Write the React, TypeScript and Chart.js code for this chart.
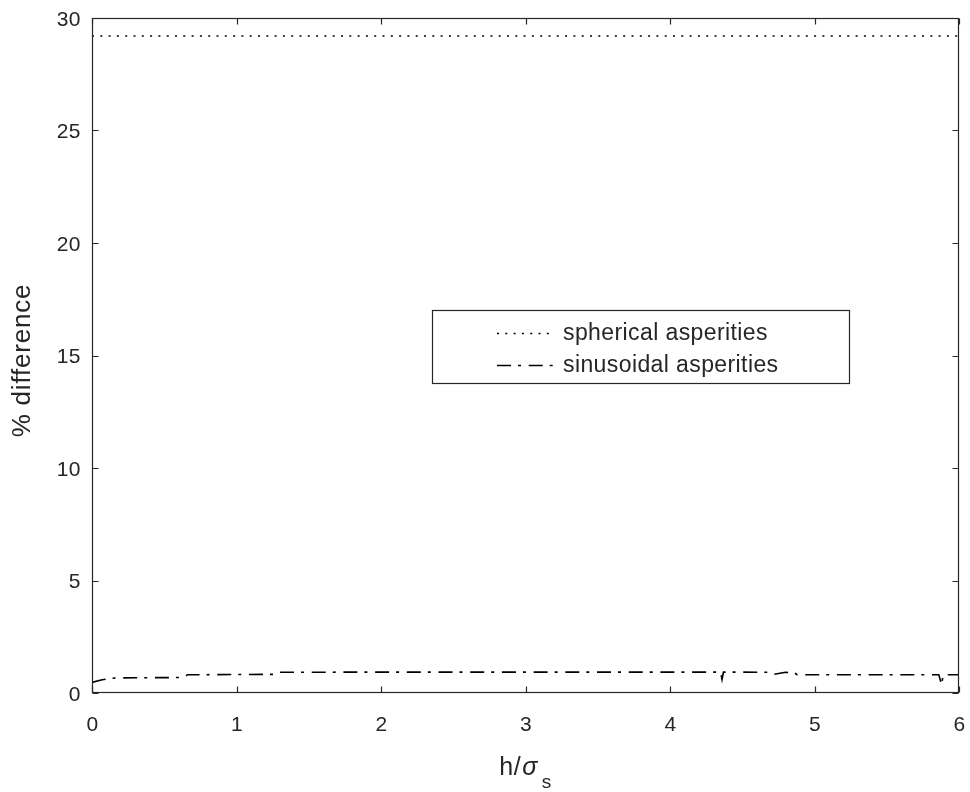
import React, { useEffect, useRef } from "react";
import { Chart, registerables } from "chart.js";

Chart.register(...registerables);

const xTicks = [0, 1, 2, 3, 4, 5, 6];
const yTicks = [0, 5, 10, 15, 20, 25, 30];
const xTickLabels = ["0", "1", "2", "3", "4", "5", "6"];
const yTickLabels = ["0", "5", "10", "15", "20", "25", "30"];
const seriesLabels = ["spherical asperities", "sinusoidal asperities"];
const yAxisLabel = "% difference";

const sphericalX = [0, 6];
const sphericalY = [29.2, 29.2];

const sinusoidalX = [0, 0.07, 0.16, 0.64, 0.66, 1.26, 1.28, 2, 3, 4, 4.35, 4.36, 4.37, 4.7, 4.72, 4.8, 4.86, 4.88, 5.0, 5.86, 5.88, 5.89, 6];
const sinusoidalY = [0.47, 0.59, 0.67, 0.69, 0.81, 0.83, 0.92, 0.93, 0.93, 0.93, 0.93, 0.6, 0.93, 0.92, 0.83, 0.92, 0.9, 0.81, 0.81, 0.81, 0.37, 0.81, 0.81];

const AXIS = "#262626";
const FONT = "'Liberation Sans', Arial, Helvetica, sans-serif";

const framePlugin = {
  id: "frame",
  afterDraw(chart: any) {
    const { ctx, chartArea: a, scales } = chart;
    ctx.save();
    ctx.strokeStyle = AXIS;
    ctx.lineWidth = 1.2;
    const L = Math.round(a.left) + 0.5;
    const R = Math.round(a.right) - 0.5;
    const T = Math.round(a.top) + 0.5;
    const B = Math.round(a.bottom) - 0.5;
    ctx.strokeRect(L, T, R - L, B - T);
    const tl = 6;
    ctx.beginPath();
    xTicks.forEach((v) => {
      const px = Math.round(scales.x.getPixelForValue(v)) + 0.5;
      ctx.moveTo(px, B);
      ctx.lineTo(px, B - tl);
      ctx.moveTo(px, T);
      ctx.lineTo(px, T + tl);
    });
    yTicks.forEach((v) => {
      const py = Math.round(scales.y.getPixelForValue(v)) + 0.5;
      ctx.moveTo(L, py);
      ctx.lineTo(L + tl, py);
      ctx.moveTo(R, py);
      ctx.lineTo(R - tl, py);
    });
    ctx.stroke();

    // tick labels
    ctx.fillStyle = AXIS;
    ctx.font = `21px ${FONT}`;
    (ctx as any).letterSpacing = "0.5px";
    ctx.textBaseline = "middle";
    ctx.textAlign = "center";
    xTicks.forEach((v, i) => {
      const px = scales.x.getPixelForValue(v);
      ctx.fillText(xTickLabels[i], px + 0.5, a.bottom + 32);
    });
    ctx.textAlign = "right";
    yTicks.forEach((v, i) => {
      const py = scales.y.getPixelForValue(v);
      ctx.fillText(yTickLabels[i], a.left - 11, py + 2);
    });

    // y label
    ctx.save();
    ctx.translate(30, (a.top + a.bottom) / 2 + 5);
    ctx.rotate(-Math.PI / 2);
    ctx.font = `26px ${FONT}`;
    (ctx as any).letterSpacing = "0.8px";
    ctx.textAlign = "center";
    ctx.textBaseline = "alphabetic";
    ctx.fillText(yAxisLabel, 0, 0);
    ctx.restore();

    // legend
    const bx = 432.5, by = 310.5, bw = 417, bh = 73;
    ctx.fillStyle = "#ffffff";
    ctx.fillRect(bx, by, bw, bh);
    ctx.strokeStyle = AXIS;
    ctx.lineWidth = 1.2;
    ctx.strokeRect(bx, by, bw, bh);
    const rows = [333, 365];
    chart.data.datasets.forEach((ds: any, i: number) => {
      const y = rows[i] + 0.5;
      ctx.beginPath();
      ctx.setLineDash(ds.borderDash || []);
      ctx.strokeStyle = ds.borderColor;
      ctx.lineWidth = ds.borderWidth;
      ctx.moveTo(497, y);
      ctx.lineTo(554, y);
      ctx.stroke();
      ctx.setLineDash([]);
      ctx.fillStyle = AXIS;
      ctx.font = `23px ${FONT}`;
      (ctx as any).letterSpacing = "0.4px";
      ctx.textAlign = "left";
      ctx.textBaseline = "middle";
      ctx.fillText(ds.label, 563, rows[i] + 1);
    });

    // x-axis label h/σ_s
    const cx = (a.left + a.right) / 2;
    const base = 775;
    ctx.fillStyle = AXIS;
    ctx.textBaseline = "alphabetic";
    ctx.textAlign = "left";
    (ctx as any).letterSpacing = "0.5px";
    const f1 = `25px ${FONT}`;
    const f2 = `italic 25px ${FONT}`;
    const f3 = `19px ${FONT}`;
    ctx.font = f1;
    const w1 = ctx.measureText("h/").width + 1;
    ctx.font = f2;
    const w2 = ctx.measureText("σ").width;
    ctx.font = f3;
    const w3 = ctx.measureText("s").width;
    const x0 = cx - (w1 + w2 + 4 + w3) / 2;
    ctx.font = f1;
    ctx.fillText("h/", x0, base);
    ctx.font = f2;
    ctx.fillText("σ", x0 + w1, base);
    ctx.font = f3;
    ctx.fillText("s", x0 + w1 + w2 + 4, base + 13);
    ctx.restore();
  },
};

const zeroPad = (s: any) => {
  s.paddingLeft = 0;
  s.paddingRight = 0;
  s.paddingTop = 0;
  s.paddingBottom = 0;
};

export default function App() {
  const ref = useRef<HTMLCanvasElement | null>(null);
  useEffect(() => {
    if (!ref.current) return;
    const chart = new Chart(ref.current, {
      type: "line",
      data: {
        datasets: [
          {
            label: seriesLabels[0],
            data: sphericalX.map((x, i) => ({ x, y: sphericalY[i] })),
            borderColor: "#000000",
            borderWidth: 1.6,
            borderDash: [2, 6.3],
            pointRadius: 0,
            fill: false,
            tension: 0,
          },
          {
            label: seriesLabels[1],
            data: sinusoidalX.map((x, i) => ({ x, y: sinusoidalY[i] })),
            borderColor: "#000000",
            borderWidth: 1.6,
            borderDash: [14, 7, 3, 7.7],
            pointRadius: 0,
            fill: false,
            tension: 0,
          },
        ],
      },
      options: {
        animation: false,
        responsive: false,
        maintainAspectRatio: false,
        layout: { padding: { top: 18, right: 11, left: 0, bottom: 0 } },
        plugins: { legend: { display: false }, tooltip: { enabled: false } },
        scales: {
          x: {
            type: "linear",
            min: 0,
            max: 6,
            afterBuildTicks: (s: any) => {
              s.ticks = xTicks.map((v) => ({ value: v }));
            },
            afterFit: (s: any) => {
              s.height = 99;
              zeroPad(s);
            },
            ticks: { display: false },
            grid: { display: false },
            border: { display: false },
          },
          y: {
            type: "linear",
            min: 0,
            max: 30,
            afterBuildTicks: (s: any) => {
              s.ticks = yTicks.map((v) => ({ value: v }));
            },
            afterFit: (s: any) => {
              s.width = 92;
              zeroPad(s);
            },
            ticks: { display: false },
            grid: { display: false },
            border: { display: false },
          },
        },
      },
      plugins: [framePlugin],
    });
    return () => chart.destroy();
  }, []);
  return (
    <div style={{ position: "fixed", left: 0, top: 0, width: 970, height: 792, background: "#fff" }}>
      <canvas ref={ref} width={970} height={792} style={{ display: "block" }} />
    </div>
  );
}
